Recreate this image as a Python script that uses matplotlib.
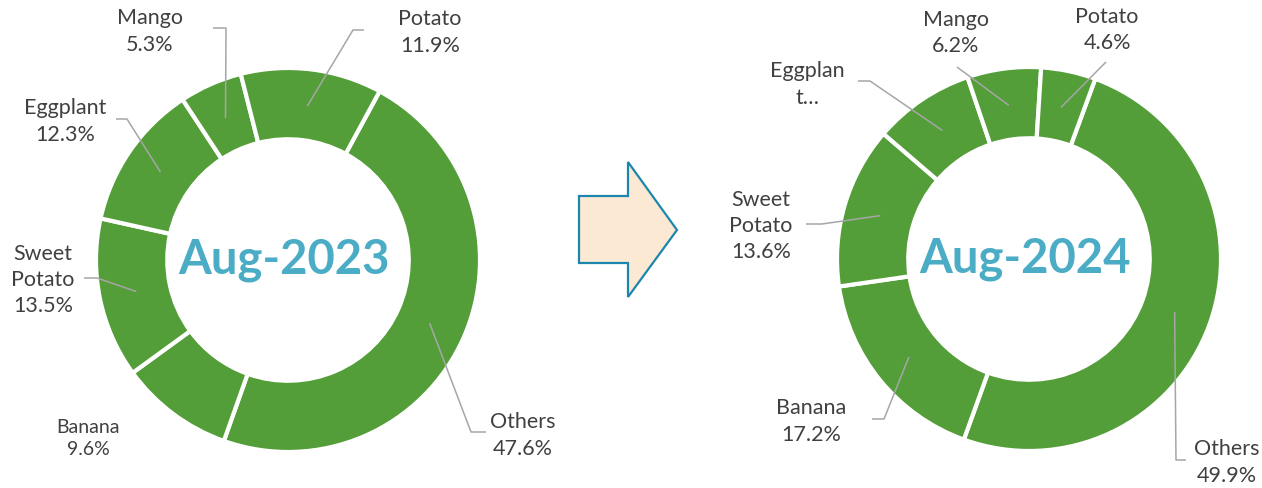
import numpy as np
import matplotlib
matplotlib.use("Agg")
from matplotlib import pyplot as plt
from matplotlib.patches import Polygon

# Data (clockwise order starting from "Others")
categories = ["Others", "Banana", "Sweet Potato", "Eggplant", "Mango", "Potato"]
share2023 = [47.6, 9.6, 13.5, 12.3, 5.3, 11.9]
share2024 = [49.9, 17.2, 13.6, 8.5, 6.2, 4.6]
labels2023 = ["Others", "Banana", "Sweet\nPotato", "Eggplant", "Mango", "Potato"]
# the Eggplant label of 2024 is cut off in the source ("Eggplan t...", no value shown)
labels2024 = ["Others", "Banana", "Sweet\nPotato", "Eggplan\nt\u2026", "Mango", "Potato"]
showValue2023 = [True]*6
showValue2024 = [True, True, True, False, True, True]
titles = ["Aug-2023", "Aug-2024"]

W, H = 1262, 489
GREEN = "#549E39"
TEAL = "#4BACC6"
TEXT = "#404040"
LEADER = "#A6A6A6"
plt.rcParams['font.family'] = ['Lato', 'DejaVu Sans']

def fy(y):
    # pixel row (from top) -> data y
    return H - y

fig = plt.figure(figsize=(W/100, H/100), dpi=100)
ax = fig.add_axes([0, 0, 1, 1])

# layout for each chart: center, start angle, label spots and leader elbows (pixels)
layouts = [
    dict(center=(288, 261), start=28.5,
         labelPos=[(523, 435.5), (88, 438.5), (43, 280), (65, 121.5), (150, 31.5), (430, 32.5)],
         labelSize=[15.5, 14, 15.5, 15.5, 15.5, 15.5],
         leaders=[[(486, 433), (471, 433)], None, [(84, 279), (97, 279)], [(116, 120), (127, 120)],
                  [(213, 29), (226, 29)], [(364, 31), (353, 31)]]),
    dict(center=(1029, 260), start=20.2,
         labelPos=[(1227, 462.5), (811, 421.5), (761, 226), (807, 84.5), (956, 33), (1107, 30)],
         labelSize=[15.5]*6,
         leaders=[[(1186, 461), (1176, 461)], [(872, 420), (884, 420)], [(806, 225), (822, 225)],
                  [(858, 82), (870, 82)], [(957, 68)], [(1106, 63)]]),
]

R = 192
ringWidth = 0.375 * 190
midR = 155

for values, labels, showVal, title, lay in zip([share2023, share2024], [labels2023, labels2024],
                                               [showValue2023, showValue2024], titles, layouts):
    cx, cy = lay["center"]
    wedges, _ = ax.pie(values, center=(cx, fy(cy)), radius=R, startangle=90 - lay["start"],
                       counterclock=False, colors=[GREEN]*len(values),
                       wedgeprops=dict(width=ringWidth, edgecolor="white", linewidth=3))
    for w, lab, val, sv, pos, size, lead in zip(wedges, labels, values, showVal, lay["labelPos"],
                                                 lay["labelSize"], lay["leaders"]):
        txt = f"{lab}\n{val:.1f}%" if sv else lab
        ax.text(pos[0], fy(pos[1]), txt, ha="center", va="center",
                fontsize=size, color=TEXT, linespacing=1.4)
        if lead is not None:
            mid = np.deg2rad((w.theta1 + w.theta2) / 2)
            endX = cx + midR*np.cos(mid)
            endY = fy(cy) + midR*np.sin(mid)
            xs = [p[0] for p in lead] + [endX]
            ys = [fy(p[1]) for p in lead] + [endY]
            ax.plot(xs, ys, color=LEADER, linewidth=1.1, solid_capstyle="butt")
    ax.text(cx - 4, fy(cy - 1), title, ha="center", va="center", fontsize=34,
            fontweight="bold", color=TEAL)

# block arrow between the two charts
arrowPts = [(579, 197), (628, 197), (628, 163), (677, 231), (628, 298), (628, 264), (579, 264)]
ax.add_patch(Polygon([(x, fy(y)) for x, y in arrowPts], closed=True, facecolor="#FBE9D3",
                     edgecolor="#1D86AE", linewidth=1.6, joinstyle="miter"))

ax.set_xlim(0, W)
ax.set_ylim(0, H)
ax.set_aspect("equal")
ax.axis("off")

fig.savefig("out.png", dpi=100)
